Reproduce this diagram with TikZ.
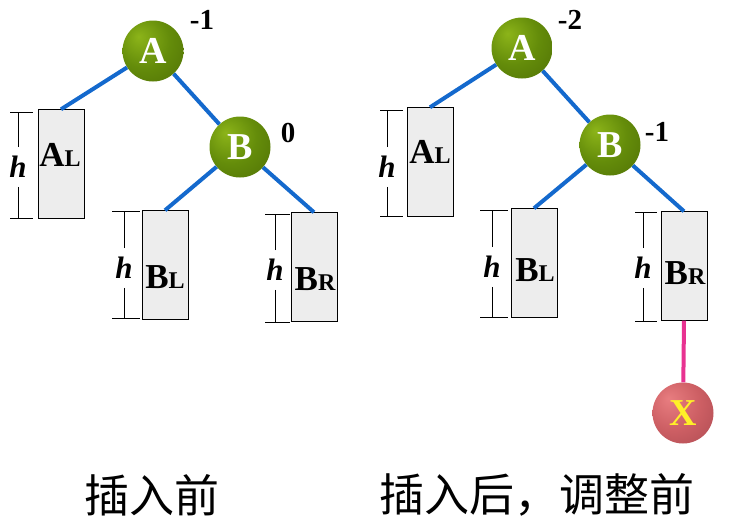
\documentclass[tikz,border=0pt]{standalone}
\usepackage{fontspec}
\setmainfont{Liberation Serif}
\newfontfamily\cjk{Noto Sans CJK SC}
\usepackage{tikz}
\usetikzlibrary{positioning}
\definecolor{avllight}{RGB}{140,180,25}
\definecolor{avlgreen}{RGB}{100,140,10}
\definecolor{avldark}{RGB}{55,80,0}
\definecolor{newlight}{RGB}{232,125,128}
\definecolor{newred}{RGB}{205,95,100}
\definecolor{newdark}{RGB}{135,50,60}
\definecolor{avlblue}{RGB}{20,105,205}
\definecolor{newyellow}{RGB}{255,240,40}
\definecolor{newpink}{RGB}{232,50,145}
\pgfdeclareradialshading{greenball}{\pgfpoint{-12bp}{12bp}}{%
color(0bp)=(avllight); color(22bp)=(avlgreen); color(70bp)=(avldark)}
\pgfdeclareradialshading{redball}{\pgfpoint{-12bp}{12bp}}{%
color(0bp)=(newlight); color(22bp)=(newred); color(70bp)=(newdark)}
\newcommand{\sublbl}[1]{{\fontsize{24}{24}\selectfont #1}}
\tikzset{x=1pt, y=-1pt,
avl node/.style={ % Sets the look of the tree nodes
circle, minimum size=61pt, inner sep=0pt,
shading=greenball,
text=white, font=\fontsize{38}{38}\selectfont\bfseries},
new node/.style={ % The inserted node
avl node, shading=redball, text=newyellow},
subtree/.style={ % Boxes for the subtrees
draw, thin, fill=gray!14,
minimum width=46pt, minimum height=109pt, inner sep=0pt},
subname/.style={font=\fontsize{35}{35}\selectfont\bfseries, inner sep=0pt},
balance/.style={font=\fontsize{29}{29}\selectfont\bfseries},
height/.style={font=\fontsize{31}{31}\selectfont\bfseries\itshape,
inner xsep=1pt, inner ysep=9pt},
tick/.style={draw, thin},
tree edge/.style={draw, line width=4pt, avlblue},
new edge/.style={draw, line width=4pt, newpink},
caption/.style={font=\cjk\fontsize{45}{45}\selectfont}}

\begin{document}
\begin{tikzpicture}
\useasboundingbox (0,0) rectangle (732,531);
% before insertion
\node[avl node] (A) at (153,51) {A};
\node[avl node] (B) at (240,147) {B};
\node[balance] (bfA) at (202,20) {-1};
\node[balance] (bfB) at (288,133) {0};
\node[subtree] (AL) at (61,164) {};
\node[subtree] (BL) at (165,265) {};
\node[subtree] (BR) at (314,267) {};
\node[subname] (nAL) at (60,155) {A\sublbl{L}};
\node[subname] (nBL) at (165,277) {B\sublbl{L}};
\node[subname] (nBR) at (315,279) {B\sublbl{R}};
\draw[tree edge] (A) -- (AL.north);
\draw[tree edge] (A) -- (B);
\draw[tree edge] (B) -- (BL.north);
\draw[tree edge] (B) -- (BR.north);
\node[height] (hAL) at (18,167) {h};
\draw[tick] (10,112) -- (33,112) (10,218) -- (33,218)
  (hAL.north) -- (18,112) (hAL.south) -- (18,218);
\node[height] (hBL) at (124,268) {h};
\draw[tick] (112,211) -- (140,211) (112,318) -- (140,318)
  (hBL.north) -- (124,211) (hBL.south) -- (124,318);
\node[height] (hBR) at (275,270) {h};
\draw[tick] (265,214) -- (290,214) (265,322) -- (290,322)
  (hBR.north) -- (275,214) (hBR.south) -- (275,322);
% after insertion, before rebalancing
\node[avl node] (A2) at (522,48) {A};
\node[avl node] (B2) at (610,145) {B};
\node[balance] (bfA2) at (570,20) {-2};
\node[balance] (bfB2) at (657,132) {-1};
\node[subtree] (AL2) at (430,162) {};
\node[subtree] (BL2) at (534,263) {};
\node[subtree] (BR2) at (684,266) {};
\node[subname] (nAL2) at (430,152) {A\sublbl{L}};
\node[subname] (nBL2) at (535,270) {B\sublbl{L}};
\node[subname] (nBR2) at (685,273) {B\sublbl{R}};
\node[new node] (X) at (683,413) {X};
\draw[tree edge] (A2) -- (AL2.north);
\draw[tree edge] (A2) -- (B2);
\draw[tree edge] (B2) -- (BL2.north);
\draw[tree edge] (B2) -- (BR2.north);
\draw[new edge] (BR2.south) -- (X);
\node[height] (hAL2) at (387,167) {h};
\draw[tick] (380,110) -- (403,110) (380,216) -- (403,216)
  (hAL2.north) -- (387,110) (hAL2.south) -- (387,216);
\node[height] (hBL2) at (492,267) {h};
\draw[tick] (480,210) -- (508,210) (480,317) -- (508,317)
  (hBL2.north) -- (492,210) (hBL2.south) -- (492,317);
\node[height] (hBR2) at (643,268) {h};
\draw[tick] (635,212) -- (657,212) (635,321) -- (657,321)
  (hBR2.north) -- (643,212) (hBR2.south) -- (643,321);
% captions
\node[caption] (cap1) at (152,495) {插入前};
\node[caption] (cap2) at (537,495) {插入后，调整前};
\end{tikzpicture}
\end{document}
